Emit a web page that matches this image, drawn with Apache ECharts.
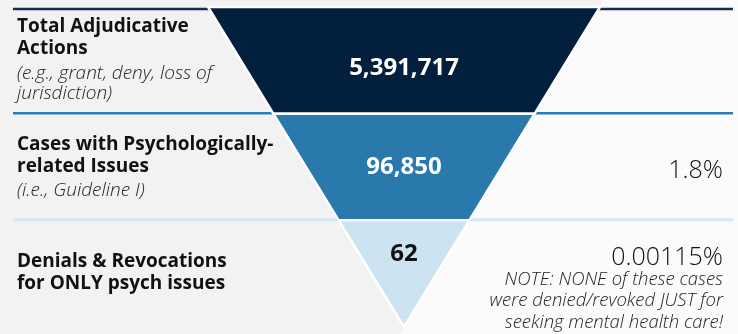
<!DOCTYPE html>
<html>
<head>
<meta charset="utf-8">
<title>Adjudicative actions funnel</title>
<script src="https://cdn.jsdelivr.net/npm/echarts@6/dist/echarts.min.js"></script>
<style>
    html, body { margin: 0; padding: 0; background: #f2f2f2; }
    #chart { width: 738px; height: 334px; }
</style>
</head>
<body>
<div id="chart"></div>
<script>
// stages of the funnel, top to bottom
const stageTitles = [
    'Total Adjudicative\nActions',
    'Cases with Psychologically-\nrelated Issues',
    'Denials & Revocations\nfor ONLY psych issues'
]
const stageNotes = [
    '(e.g., grant, deny, loss of\njurisdiction)',
    '(i.e., Guideline I)',
    ''
]
const stageCounts = [5391717, 96850, 62]
const stageShares = ['', '1.8%', '0.00115%']
const shareNote = 'NOTE: NONE of these cases\nwere denied/revoked JUST for\nseeking mental health care!'
// the picture draws the funnel in equal steps, not to scale
const funnelLevel = [3, 2, 1]

const rowColors = ['#02203e', '#2a79ad', '#cce3f2']
const labelColors = ['#ffffff', '#ffffff', '#111111']
const lineColors = ['#132f50', '#2d7bb6', '#d3e7f7']

const FONT = '"Open Sans", "Noto Sans", sans-serif'

function withCommas(n) {
    return String(n).replace(/\B(?=(\d{3})+(?!\d))/g, ',')
}

// funnel box (px)
const fTop = 7
const fHeight = 320
const rowH = fHeight / stageTitles.length

const chart = echarts.init(document.getElementById('chart'), null, { renderer: 'canvas' })

const graphics = [
    {
        type: 'rect', z: -20, silent: true,
        shape: { x: 0, y: 0, width: 738, height: 334 },
        style: { fill: '#f2f2f2' }
    },
    {
        type: 'polygon', z: -19, silent: true,
        shape: { points: [[603, 0], [738, 0], [738, 334], [399, 334]] },
        style: { fill: '#fbfbfb' }
    }
]

// row divider lines
lineColors.forEach(function (c, i) {
    const y = i === 0 ? fTop + 2 : fTop + i * rowH - 0.5
    graphics.push({
        type: 'line', z: -10, silent: true,
        shape: { x1: 13, y1: y, x2: 733, y2: y },
        style: { stroke: c, lineWidth: i === 2 ? 3 : 2.5 }
    })
})

// left hand titles
const titleTops = [16, 134, 251]
const noteTops = [63.5, 180.5, 0]
stageTitles.forEach(function (t, i) {
    graphics.push({
        type: 'text', silent: true,
        x: 17, y: titleTops[i],
        style: {
            text: t, fill: '#111', fontFamily: FONT, fontWeight: 'bold', fontSize: 19,
            lineHeight: 22, align: 'left', verticalAlign: 'top'
        }
    })
    if (stageNotes[i]) {
        graphics.push({
            type: 'text', silent: true,
            x: 17, y: noteTops[i],
            style: {
                text: stageNotes[i], fill: '#222', fontFamily: FONT, fontStyle: 'italic', fontWeight: 300,
                fontSize: 19, lineHeight: 20, align: 'left', verticalAlign: 'top'
            }
        })
    }
})

// right hand shares
const shareMid = [0, 170.5, 257.5]
stageShares.forEach(function (s, i) {
    if (!s) return
    graphics.push({
        type: 'text', silent: true,
        x: 723, y: shareMid[i],
        style: {
            text: s, fill: '#111', fontFamily: FONT, fontWeight: 300, fontSize: 25,
            align: 'right', verticalAlign: 'middle'
        }
    })
})
graphics.push({
    type: 'text', silent: true,
    x: 723, y: 268.5,
    style: {
        text: shareNote, fill: '#222', fontFamily: FONT, fontStyle: 'italic', fontWeight: 300,
        fontSize: 18.5, lineHeight: 21.5, align: 'right', verticalAlign: 'top'
    }
})

// the inside label sits at the shape's centre; blank lines nudge it
// down in the top row and up in the bottom triangle
const labelBefore = ['\n', '', '']
const labelAfter = ['', '', '\n\n']
const labelLineH = [16, 24, 20]

chart.setOption({
    animation: false,
    graphic: graphics,
    series: [
        {
            type: 'funnel',
            silent: true,
            left: 208,
            top: fTop,
            width: 392,
            height: fHeight,
            min: 0,
            max: 3,
            minSize: '0%',
            maxSize: '100%',
            sort: 'none',
            gap: 0,
            itemStyle: {
                borderColor: '#ffffff',
                borderWidth: 2.5
            },
            label: {
                show: true,
                position: 'inside',
                fontFamily: FONT,
                fontWeight: 'bold',
                fontSize: 24,
                formatter: function (p) {
                    const i = p.dataIndex
                    return labelBefore[i] + withCommas(stageCounts[i]) + labelAfter[i]
                }
            },
            labelLine: { show: false },
            data: funnelLevel.map(function (v, i) {
                return {
                    value: v,
                    name: stageTitles[i],
                    itemStyle: { color: rowColors[i] },
                    label: { color: labelColors[i], lineHeight: labelLineH[i] }
                }
            })
        }
    ]
})
</script>
</body>
</html>
